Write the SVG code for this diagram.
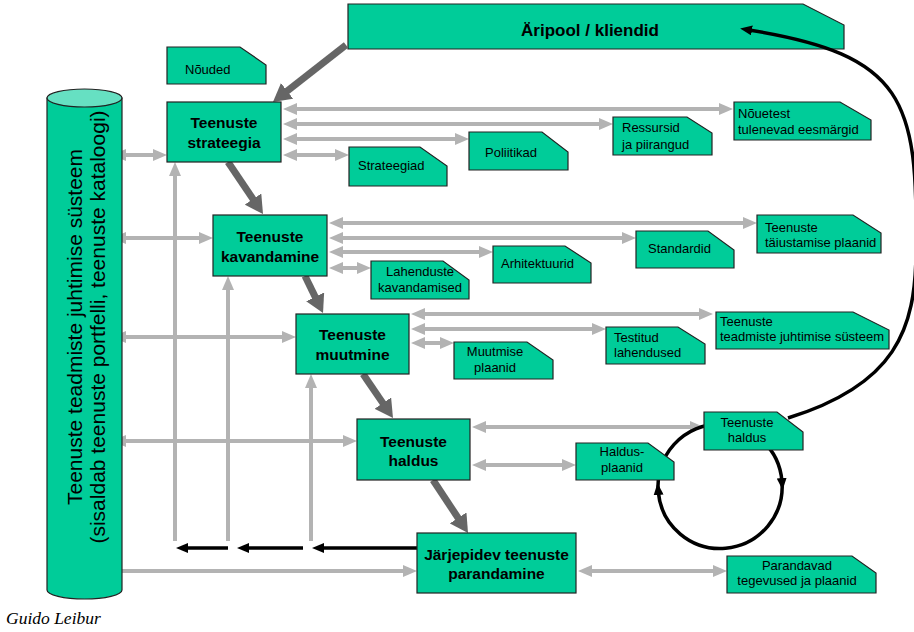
<svg xmlns="http://www.w3.org/2000/svg" width="914" height="632" viewBox="0 0 914 632">
<defs>
<marker id="ag" markerUnits="userSpaceOnUse" viewBox="0 0 14 12" refX="5" refY="6" markerWidth="14" markerHeight="12" orient="auto-start-reverse"><path d="M0,0 L14,6 L0,12 Z" fill="#b3b3b3"/></marker>
<marker id="ad" markerUnits="userSpaceOnUse" viewBox="0 0 18 20" refX="4" refY="10" markerWidth="18" markerHeight="20" orient="auto"><path d="M0,0 L18,10 L0,20 Z" fill="#666666"/></marker>
<marker id="ab" markerUnits="userSpaceOnUse" viewBox="0 0 12 10" refX="3" refY="5" markerWidth="12" markerHeight="10" orient="auto"><path d="M0,0 L12,5 L0,10 Z" fill="#000"/></marker>
</defs>
<style>
.g{stroke:#b3b3b3;stroke-width:4;fill:none}
.d{stroke:#666666;stroke-width:7;fill:none}
.k{stroke:#000;stroke-width:3.5;fill:none}
.box{fill:#00cc99;stroke:#222;stroke-width:1.2}
.doc{fill:#00cc99;stroke:#222;stroke-width:1.2}
.bt{font-family:"Liberation Sans",Arial,sans-serif;font-weight:bold;font-size:15.5px;fill:#000;text-anchor:middle}
.big{font-size:17px}
.dt{font-family:"Liberation Sans",Arial,sans-serif;font-size:13px;fill:#000}
.c{text-anchor:middle}
</style>
<rect width="914" height="632" fill="#fff"/>
<g id="aripool">
<path class="box" d="M348,4 L803,4 L844,25 L844,49 L348,49 Z"/>
<text class="bt big" x="590" y="36">Äripool / kliendid</text>
</g>
<g id="connectors">
<g marker-start="url(#ag)" marker-end="url(#ag)">
<line class="g" x1="292" y1="109" x2="724" y2="109"/>
<line class="g" x1="292" y1="124" x2="604" y2="124"/>
<line class="g" x1="292" y1="139" x2="460" y2="139"/>
<line class="g" x1="292" y1="155" x2="340" y2="155"/>
<line class="g" x1="338" y1="223" x2="748" y2="223"/>
<line class="g" x1="338" y1="238" x2="627" y2="238"/>
<line class="g" x1="338" y1="252" x2="484" y2="252"/>
<line class="g" x1="338" y1="268" x2="362" y2="268"/>
<line class="g" x1="420" y1="314" x2="704" y2="314"/>
<line class="g" x1="420" y1="329" x2="597" y2="329"/>
<line class="g" x1="420" y1="343" x2="445" y2="343"/>
<line class="g" x1="481" y1="427" x2="695" y2="427"/>
<line class="g" x1="481" y1="465" x2="567" y2="465"/>
<line class="g" x1="587" y1="571" x2="718" y2="571"/>
<line class="g" x1="121" y1="155" x2="158" y2="155"/>
<line class="g" x1="121" y1="238" x2="204" y2="238"/>
<line class="g" x1="121" y1="337" x2="287" y2="337"/>
<line class="g" x1="121" y1="441" x2="348" y2="441"/>
<line class="g" x1="116" y1="571" x2="408" y2="571"/>
</g>
<g marker-end="url(#ag)">
<line class="g" x1="175" y1="541" x2="175" y2="171"/>
<line class="g" x1="228" y1="541" x2="228" y2="285"/>
<line class="g" x1="311" y1="541" x2="311" y2="383"/>
</g>
<g marker-end="url(#ab)">
<line class="k" stroke-width="3" x1="417" y1="548" x2="321" y2="548"/>
<line class="k" stroke-width="3" x1="303" y1="548" x2="246" y2="548"/>
<line class="k" stroke-width="3" x1="228" y1="548" x2="185" y2="548"/>
</g>
<g marker-end="url(#ad)">
<line class="d" x1="346" y1="45" x2="284" y2="93.4"/>
<line class="d" x1="228" y1="162" x2="255.2" y2="202.4"/>
<line class="d" x1="305" y1="276" x2="316.9" y2="300.4"/>
<line class="d" x1="363" y1="374" x2="385.1" y2="406.4"/>
<line class="d" x1="433" y1="480" x2="460.3" y2="521.3"/>
</g>
<g marker-end="url(#ab)">
<path class="k" d="M720,424 A62,62 0 0 1 781.9,481"/>
<path class="k" d="M781.9,481 A62,62 0 0 1 658.3,492"/>
<path class="k" d="M788,418 C895,385 916,330 916,250 C918,100 905,55 749,30"/>
</g>
<path class="k" d="M658.3,492 A62,62 0 0 1 720,424"/>
</g>
<g id="cylinder">
<path d="M47,98 L47,590 A37.5,9 0 0 0 122,590 L122,98 Z" fill="#00cc99" stroke="#222" stroke-width="1.2"/>
<ellipse cx="84.5" cy="98" rx="37.5" ry="9" fill="#66e0c2" stroke="#222" stroke-width="1.2"/>
<text font-family="Liberation Sans, Arial, sans-serif" font-size="21" text-anchor="middle" transform="translate(82,327) rotate(-90)"><tspan x="0" y="0">Teenuste teadmiste juhtimise süsteem</tspan><tspan x="0" y="23">(sisaldab teenuste portfelli, teenuste kataloogi)</tspan></text>
</g>
<g id="noued">
<path class="doc" d="M167,47 L240,47 L266,65 L266,84 L167,84 Z"/>
<text class="dt" x="185" y="74">Nõuded</text>
</g>
<g id="strateegia">
<rect class="box" x="167" y="102" width="114" height="60"/>
<text class="bt" x="224" y="128">Teenuste</text>
<text class="bt" x="224" y="148">strateegia</text>
</g>
<g id="strateegiad">
<path class="doc" d="M349,147 L420,147 L447,166 L447,186 L349,186 Z"/>
<text class="dt" x="358" y="170">Strateegiad</text>
</g>
<g id="poliitikad">
<path class="doc" d="M469,132 L542,132 L568,152 L568,170 L469,170 Z"/>
<text class="dt" x="485" y="157">Poliitikad</text>
</g>
<g id="ressursid">
<path class="doc" d="M613,117 L687,117 L712,133 L712,155 L613,155 Z"/>
<text class="dt" x="622" y="132">Ressursid</text>
<text class="dt" x="622" y="149">ja piirangud</text>
</g>
<g id="nouetest">
<path class="doc" d="M734,102 L840,102 L871,120 L871,140 L734,140 Z"/>
<text class="dt" x="738" y="118">Nõuetest</text>
<text class="dt" x="738" y="134">tulenevad eesmärgid</text>
</g>
<g id="kavandamine">
<rect class="box" x="213" y="215" width="114" height="61"/>
<text class="bt" x="270" y="242">Teenuste</text>
<text class="bt" x="270" y="262">kavandamine</text>
</g>
<g id="lahenduste">
<path class="doc" d="M371,261 L443,261 L469,280 L469,299 L371,299 Z"/>
<text class="dt c" x="420" y="276">Lahenduste</text>
<text class="dt c" x="420" y="292">kavandamised</text>
</g>
<g id="arhitektuurid">
<path class="doc" d="M493,246 L565,246 L591,263 L591,283 L493,283 Z"/>
<text class="dt" x="501" y="268">Arhitektuurid</text>
</g>
<g id="standardid">
<path class="doc" d="M636,231 L708,231 L734,250 L734,268 L636,268 Z"/>
<text class="dt" x="648" y="253">Standardid</text>
</g>
<g id="taiustamise">
<path class="doc" d="M757,215 L853,215 L881,233 L881,253 L757,253 Z"/>
<text class="dt" x="765" y="232">Teenuste</text>
<text class="dt" x="765" y="247">täiustamise plaanid</text>
</g>
<g id="muutmine">
<rect class="box" x="296" y="314" width="113" height="60"/>
<text class="bt" x="352.5" y="340">Teenuste</text>
<text class="bt" x="352.5" y="360">muutmine</text>
</g>
<g id="muutmise">
<path class="doc" d="M454,342 L527,342 L553,360 L553,379 L454,379 Z"/>
<text class="dt c" x="495" y="356">Muutmise</text>
<text class="dt c" x="495" y="372">plaanid</text>
</g>
<g id="testitud">
<path class="doc" d="M606,327 L678,327 L705,344 L705,364 L606,364 Z"/>
<text class="dt" x="614" y="342">Testitud</text>
<text class="dt" x="614" y="357">lahendused</text>
</g>
<g id="teadmiste">
<path class="doc" d="M716,312 L853,312 L889,330 L889,349 L716,349 Z"/>
<text class="dt" x="720" y="326">Teenuste</text>
<text class="dt" x="720" y="341">teadmiste juhtimise süsteem</text>
</g>
<g id="haldus">
<rect class="box" x="357" y="419" width="113" height="61"/>
<text class="bt" x="413.5" y="447">Teenuste</text>
<text class="bt" x="413.5" y="466">haldus</text>
</g>
<g id="haldusplaanid">
<path class="doc" d="M576,443 L648,443 L674,462 L674,480 L576,480 Z"/>
<text class="dt c" x="622" y="456">Haldus-</text>
<text class="dt c" x="622" y="472">plaanid</text>
</g>
<g id="teenusteHaldusDoc">
<path class="doc" d="M704,412 L777,412 L803,432 L803,450 L704,450 Z"/>
<text class="dt c" x="747" y="427">Teenuste</text>
<text class="dt c" x="747" y="442">haldus</text>
</g>
<g id="jarjepidev">
<rect class="box" x="417" y="533" width="159" height="60"/>
<text class="bt" x="496.5" y="560">Järjepidev teenuste</text>
<text class="bt" x="496.5" y="579">parandamine</text>
</g>
<g id="parandavad">
<path class="doc" d="M727,556 L852,556 L876,573 L876,593 L727,593 Z"/>
<text class="dt c" x="797" y="570">Parandavad</text>
<text class="dt c" x="797" y="585">tegevused ja plaanid</text>
</g>
<text x="6" y="624" font-family="Liberation Serif, Times New Roman, serif" font-style="italic" font-size="17.5" fill="#000">Guido Leibur</text>
</svg>
